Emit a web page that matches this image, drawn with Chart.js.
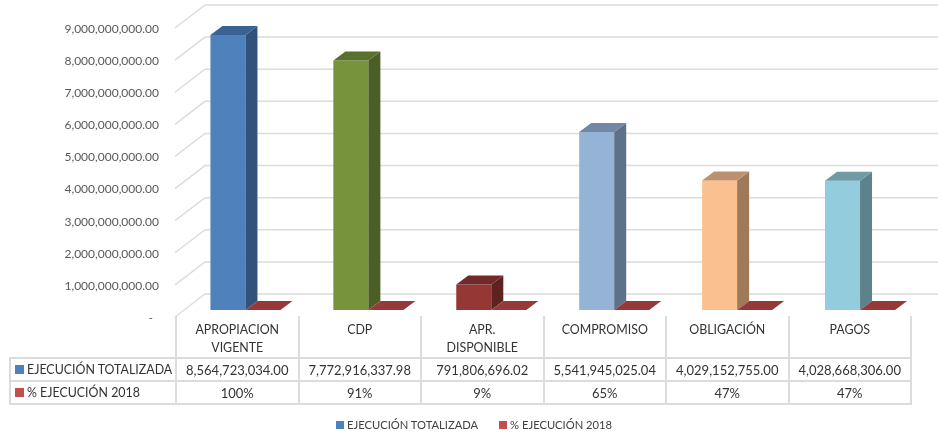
<!DOCTYPE html>
<html lang="es">
<head>
<meta charset="utf-8">
<title>Ejecución 2018</title>
<script src="https://cdn.jsdelivr.net/npm/chart.js@4"></script>
<style>
  html, body { margin: 0; padding: 0; background: #fff; overflow: hidden; }
  #caja { position: relative; width: 938px; height: 435px; font-family: Lato, sans-serif; color: #333; }
  #grafico { position: absolute; left: 0; top: 0; }
  #tabla { position: absolute; left: 9px; top: 316px; border-collapse: collapse; table-layout: fixed; width: 903px; font-size: 13px; }
  #tabla td { border: 2px solid #dcdcdc; text-align: center; padding: 0; height: 21px; line-height: 18px; white-space: nowrap; overflow: hidden; }
  #tabla tr.cab td { vertical-align: top; padding-top: 5px; border-top: none; white-space: pre-line; box-sizing: border-box; height: 40px; font-size: 12.4px; }
  #tabla tr.cab td.vacia { border: none; border-bottom: 2px solid #dcdcdc; }
  #tabla td.nombre { text-align: left; padding-left: 4px; font-size: 12.4px; }
  .llave { display: inline-block; width: 9px; height: 9px; margin-right: 3px; }
  #leyenda { position: absolute; left: 336px; top: 417px; font-size: 11.2px; line-height: 15px; white-space: nowrap; color: #404040; }
  #leyenda span.item { margin-right: 21px; }
  #leyenda .llave { width: 8px; height: 8px; }
</style>
</head>
<body>
<div id="caja">
  <canvas id="grafico" width="938" height="435"></canvas>
  <table id="tabla"></table>
  <div id="leyenda"></div>
</div>
<script>
// Datos
var categorias = ['APROPIACION\nVIGENTE', 'CDP', 'APR.\nDISPONIBLE', 'COMPROMISO', 'OBLIGACIÓN', 'PAGOS'];
var ejecucionTotalizada = [8564723034.00, 7772916337.98, 791806696.02, 5541945025.04, 4029152755.00, 4028668306.00];
var porcentajeEjecucion = [1.00, 0.91, 0.09, 0.65, 0.47, 0.47];
var nombresSeries = ['EJECUCIÓN TOTALIZADA', '% EJECUCIÓN 2018'];
var coloresLeyenda = ['#4F81BD', '#C0504D'];

// Colores de cada barra: frente, lado y tapa
var coloresFrente = ['#4F81BD', '#77933C', '#953735', '#95B3D7', '#FAC090', '#93CDDD'];
var coloresLado = ['#31527B', '#4B5E25', '#5E2321', '#5E718A', '#9E7A5B', '#5D828C'];
var coloresTapa = ['#3A6394', '#5A702D', '#712A28', '#7187A3', '#BD916D', '#6F9BA7'];
var colorPiso = '#953A39';

var profundidadBarra = { x: 12, y: 9 };
var paredFrente = 7;
var paredFondo = { x: 30, y: 23 };
var xPared = 175;

function formatoMonto(v) {
  return v.toLocaleString('en-US', { minimumFractionDigits: 2, maximumFractionDigits: 2 });
}

function poligono(ctx, puntos, color) {
  ctx.fillStyle = color;
  ctx.beginPath();
  ctx.moveTo(puntos[0][0], puntos[0][1]);
  for (var i = 1; i < puntos.length; i++) {
    ctx.lineTo(puntos[i][0], puntos[i][1]);
  }
  ctx.closePath();
  ctx.fill();
}

// Paredes y lineas de la cuadricula en perspectiva
var paredes = {
  id: 'paredes',
  beforeDatasetsDraw: function(chart) {
    var ctx = chart.ctx;
    var escala = chart.scales.y;
    ctx.save();
    ctx.strokeStyle = '#DCDCDC';
    ctx.lineWidth = 1.5;
    escala.ticks.forEach(function(tick) {
      var y = escala.getPixelForValue(tick.value) + paredFrente;
      ctx.beginPath();
      ctx.moveTo(xPared, y);
      ctx.lineTo(xPared + paredFondo.x, y - paredFondo.y);
      ctx.lineTo(chart.width, y - paredFondo.y);
      ctx.stroke();
    });
    ctx.restore();
  }
};

// Lado y tapa de cada barra, a partir de los elementos que calcula Chart.js
var barras3d = {
  id: 'barras3d',
  afterDatasetsDraw: function(chart) {
    var ctx = chart.ctx;
    var dx = profundidadBarra.x;
    var dy = profundidadBarra.y;
    ctx.save();
    chart.data.datasets.forEach(function(ds, d) {
      chart.getDatasetMeta(d).data.forEach(function(barra, i) {
        var izq = barra.x - barra.width / 2;
        var der = barra.x + barra.width / 2;
        var arriba = barra.y;
        var base = barra.base;
        poligono(ctx, [[der, arriba], [der + dx, arriba - dy], [der + dx, base - dy], [der, base]], d === 0 ? coloresLado[i] : colorPiso);
        poligono(ctx, [[izq, arriba], [izq + dx, arriba - dy], [der + dx, arriba - dy], [der, arriba]], d === 0 ? coloresTapa[i] : colorPiso);
      });
    });
    ctx.restore();
  }
};

new Chart(document.getElementById('grafico'), {
  type: 'bar',
  data: {
    labels: categorias,
    datasets: [
      { label: nombresSeries[0], data: ejecucionTotalizada, backgroundColor: coloresFrente, categoryPercentage: 0.57, barPercentage: 1 },
      { label: nombresSeries[1], data: porcentajeEjecucion, backgroundColor: colorPiso, categoryPercentage: 0.57, barPercentage: 1 }
    ]
  },
  options: {
    responsive: false,
    animation: false,
    layout: { padding: { top: 21, bottom: 125, left: 0, right: 16.5 } },
    plugins: { legend: { display: false }, tooltip: { enabled: false } },
    scales: {
      x: { display: false },
      y: {
        min: 0,
        max: 9000000000,
        afterFit: function(escala) {
          escala.width = 184;
          escala.paddingTop = 0;
          escala.paddingBottom = 0;
        },
        grid: { display: false, drawTicks: false },
        border: { display: false },
        ticks: {
          stepSize: 1000000000,
          padding: 25,
          labelOffset: 8,
          color: '#595959',
          font: { family: 'Lato', size: 12 },
          callback: function(v) { return v === 0 ? '-  ' : formatoMonto(v); }
        }
      }
    }
  },
  plugins: [paredes, barras3d]
});

// Tabla de datos debajo del grafico
var html = '<colgroup><col style="width:166px">';
categorias.forEach(function() { html += '<col>'; });
html += '</colgroup><tr class="cab"><td class="vacia"></td>';
categorias.forEach(function(c) { html += '<td>' + c + '</td>'; });
html += '</tr><tr><td class="nombre"><span class="llave" style="background:' + coloresLeyenda[0] + '"></span>' + nombresSeries[0] + '</td>';
ejecucionTotalizada.forEach(function(v) { html += '<td>' + formatoMonto(v) + '</td>'; });
html += '</tr><tr><td class="nombre"><span class="llave" style="background:' + coloresLeyenda[1] + '"></span>' + nombresSeries[1] + '</td>';
porcentajeEjecucion.forEach(function(v) { html += '<td>' + Math.round(v * 100) + '%</td>'; });
html += '</tr>';
document.getElementById('tabla').innerHTML = html;

// Leyenda inferior
var leyenda = '';
nombresSeries.forEach(function(n, i) {
  leyenda += '<span class="item"><span class="llave" style="background:' + coloresLeyenda[i] + '"></span>' + n + '</span>';
});
document.getElementById('leyenda').innerHTML = leyenda;
</script>
</body>
</html>
